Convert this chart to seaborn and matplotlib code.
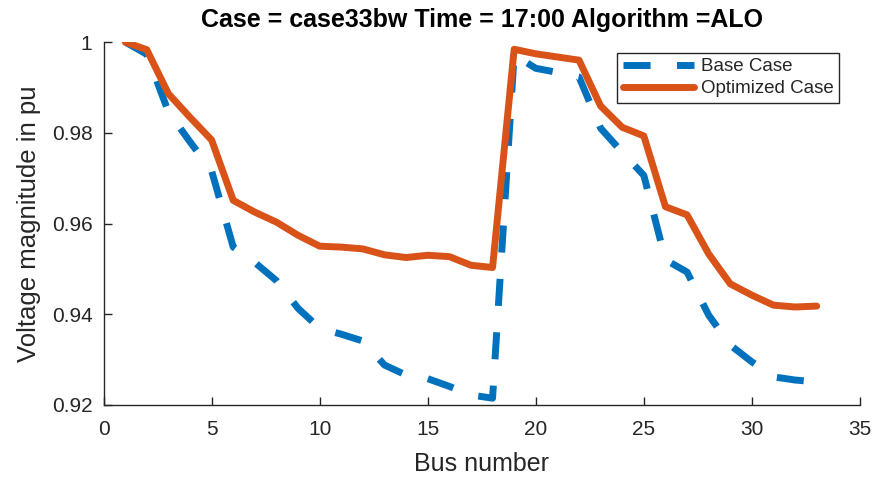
import numpy as np
import pandas as pd
import matplotlib
matplotlib.use("Agg")
import matplotlib.pyplot as plt
import seaborn as sns

# Bus voltages
bus = list(range(1, 34))

base_case = [1.0000, 0.9973, 0.9846, 0.9780, 0.9716, 0.9548, 0.9514, 0.9474,
             0.9413, 0.9369, 0.9356, 0.9341, 0.9288, 0.9266, 0.9258, 0.9241,
             0.9222, 0.9215, 0.9972, 0.9942, 0.9933, 0.9923, 0.9810, 0.9757,
             0.9706, 0.9520, 0.9493, 0.9398, 0.9332, 0.9295, 0.9262, 0.9255,
             0.9251]

optimized_case = [1.0000, 0.9983, 0.9886, 0.9834, 0.9784, 0.9651, 0.9625, 0.9603,
                  0.9574, 0.9550, 0.9548, 0.9544, 0.9531, 0.9525, 0.9530, 0.9527,
                  0.9508, 0.9503, 0.9984, 0.9974, 0.9967, 0.9960, 0.9859, 0.9812,
                  0.9793, 0.9637, 0.9619, 0.9533, 0.9467, 0.9442, 0.9420, 0.9416,
                  0.9418]

series_names = ["Base Case", "Optimized Case"]

x_ticks = [0, 5, 10, 15, 20, 25, 30, 35]
y_ticks = [0.92, 0.94, 0.96, 0.98, 1.00]
y_tick_labels = ["0.92", "0.94", "0.96", "0.98", "1"]

df = pd.DataFrame({
    "bus": bus + bus,
    "voltage": base_case + optimized_case,
    "case": [series_names[0]] * len(bus) + [series_names[1]] * len(bus),
})

sns.set_theme(style="ticks")
plt.rcParams["font.family"] = ["Liberation Sans", "DejaVu Sans"]

axis_color = "#262626"

fig = plt.figure(figsize=(8.74, 4.79), dpi=100)
ax = fig.add_axes([0.1185, 0.1545, 0.8654, 0.7578])

sns.lineplot(
    data=df,
    x="bus",
    y="voltage",
    hue="case",
    style="case",
    palette={"Base Case": "#0072BD", "Optimized Case": "#D95319"},
    dashes={"Base Case": (3.9, 3.8), "Optimized Case": ""},
    linewidth=5,
    ax=ax,
)

for line in ax.lines:
    line.set_dash_capstyle("butt")

ax.set_xlim(0, 35)
ax.set_ylim(0.92, 1.0)
ax.set_xticks(x_ticks)
ax.set_yticks(y_ticks)
ax.set_yticklabels(y_tick_labels)

ax.tick_params(direction="in", length=6, width=1, colors=axis_color,
               labelsize=15)
ax.tick_params(axis="x", pad=11)
ax.tick_params(axis="y", pad=8)

sns.despine(ax=ax)
for side in ["left", "bottom"]:
    ax.spines[side].set_color(axis_color)
    ax.spines[side].set_linewidth(1)

ax.set_xlabel("Bus number", fontsize=18, color=axis_color, labelpad=9)
ax.set_ylabel("Voltage magnitude in pu", fontsize=18.5, color=axis_color, labelpad=8)
ax.set_title("Case = case33bw Time = 17:00 Algorithm =ALO",
             fontsize=18, fontweight="bold", color="black", pad=11)

handles, labels = ax.get_legend_handles_labels()
leg = ax.legend(
    handles, labels,
    loc="upper right",
    bbox_to_anchor=(0.9726, 0.9705),
    borderaxespad=0,
    fontsize=13.5,
    handlelength=3.8,
    handletextpad=0.35,
    borderpad=0.3,
    labelspacing=0.25,
    frameon=True,
    fancybox=False,
    framealpha=1,
    edgecolor=axis_color,
)
leg.get_frame().set_linewidth(1)
for h in leg.get_lines():
    h.set_linewidth(5)
    h.set_dash_capstyle("butt")

fig.savefig("out.png", dpi=100)
